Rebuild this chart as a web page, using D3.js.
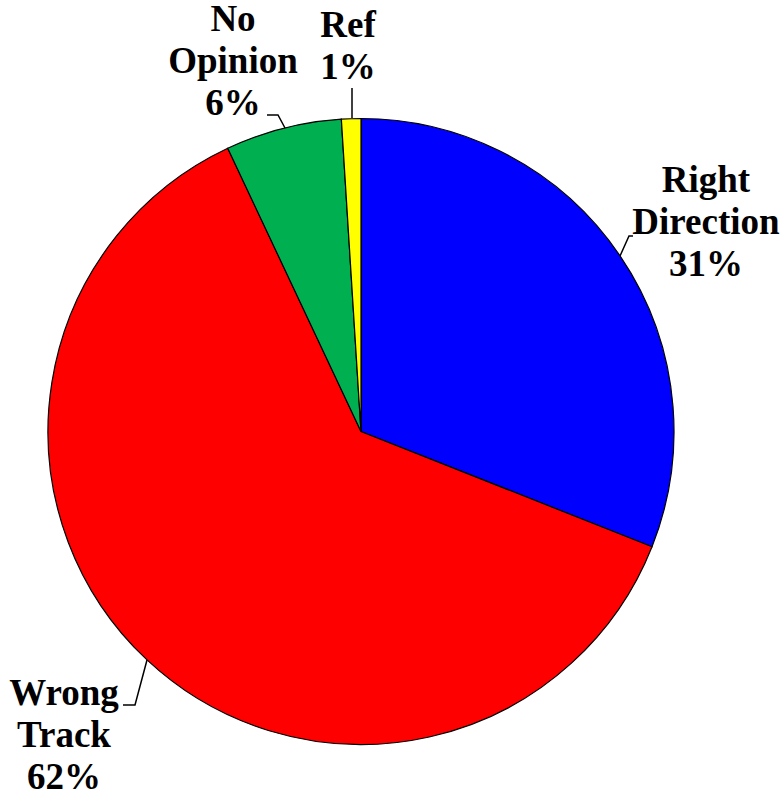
<!DOCTYPE html>
<html><head><meta charset="utf-8">
<script src="https://cdn.jsdelivr.net/npm/d3@7"></script>
</head><body>
<svg id="c" width="783" height="796" style="position:absolute;left:0;top:0;background:#fff"></svg>
<script>
const categories = ["Right Direction", "Wrong Track", "No Opinion", "Ref"];
const values = [31, 62, 6, 1];
const colors = ["#0000FF", "#FF0000", "#00B050", "#FFFF00"];
const labelLines = [["Right", "Direction", "31%"], ["Wrong", "Track", "62%"], ["No", "Opinion", "6%"], ["Ref", "1%"]];

const svg = d3.select("#c");
const cx = 361, cy = 431.5, r = 313;
const g = svg.append("g").attr("transform", `translate(${cx},${cy})`);
const pie = d3.pie().sort(null).value(d => d)(values);
const arc = d3.arc().innerRadius(0).outerRadius(r);
g.selectAll("path").data(pie).enter().append("path")
  .attr("d", arc).attr("fill", (d, i) => colors[i])
  .attr("stroke", "#000").attr("stroke-width", 1.2);

// label layout (centre x, first baseline) and leader polylines
const labelPos = [[706, 192], [64, 705], [233, 31], [348, 37]];
const leaders = [
  [[633, 236], [629, 236], [620, 256]],
  [[123, 705], [135, 705], [147, 660]],
  [[267, 115], [278, 115], [285, 128]],
  [[352, 88], [352, 118]]
];
const lh = 42;
labelLines.forEach((lines, i) => {
  lines.forEach((s, j) => {
    const t = svg.append("text").attr("x", labelPos[i][0]).attr("y", labelPos[i][1] + j * lh)
      .style("font-family", '"Liberation Serif"').style("font-weight", "bold").style("font-size", "37px")
      .text(s);
    const w = t.node().getComputedTextLength();
    t.attr("x", labelPos[i][0] - w / 2);
  });
  svg.append("polyline").attr("points", leaders[i].map(p => p.join(",")).join(" "))
    .attr("fill", "none").attr("stroke", "#000").attr("stroke-width", 1.5);
});
</script>
</body></html>
